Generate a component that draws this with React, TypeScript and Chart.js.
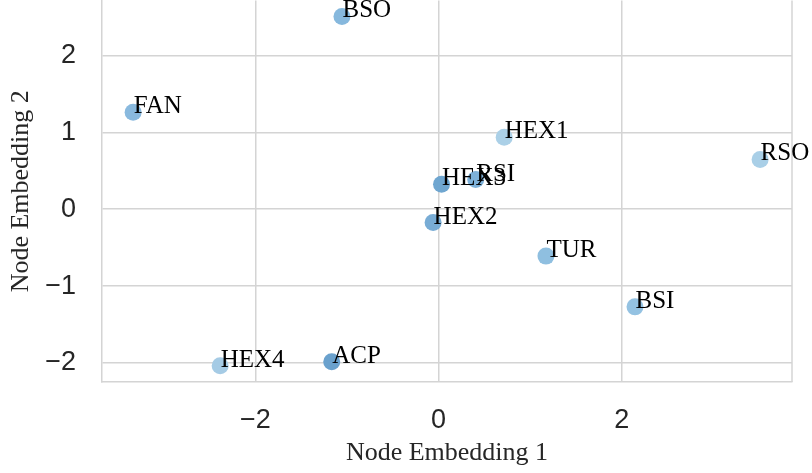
import React, { useEffect, useRef } from "react";
import { Chart, registerables } from "chart.js";

Chart.register(...registerables);

const nodeNames = ["BSO", "FAN", "HEX1", "RSO", "RSI", "HEX3", "HEX2", "TUR", "BSI", "HEX4", "ACP"];
const embedding1 = [-1.055, -3.335, 0.716, 3.51, 0.405, 0.032, -0.06, 1.172, 2.144, -2.385, -1.167];
const embedding2 = [2.506, 1.26, 0.935, 0.647, 0.385, 0.325, -0.173, -0.61, -1.27, -2.035, -1.983];
const nodeColors = ["#86b8dd", "#89b9de", "#abd0e7", "#a9cfe7", "#7db1d9", "#6fa6d0", "#78acd5", "#8fbfe0", "#94c2e2", "#a5cbe5", "#6aa1cd"];
const xTicks = [-2, 0, 2];
const yTicks = [-2, -1, 0, 1, 2];
const xRange = [-3.675, 3.858];
const yRange = [-2.247, 2.714];

const GRID = "#d4d4d4";
const fmt = (v: number) => String(v).replace("-", "\u2212");

const labelPlugin = {
  id: "nodeLabels",
  afterDatasetsDraw(chart: any) {
    const { ctx, scales, chartArea } = chart;
    ctx.save();
    // right spine
    ctx.strokeStyle = GRID;
    ctx.lineWidth = 1.5;
    ctx.beginPath();
    ctx.moveTo(chartArea.right, chartArea.top);
    ctx.lineTo(chartArea.right, chartArea.bottom);
    ctx.stroke();
    ctx.fillStyle = "#000000";
    ctx.font = "25px 'Liberation Serif'";
    ctx.textAlign = "left";
    ctx.textBaseline = "alphabetic";
    nodeNames.forEach((name, i) => {
      const px = scales.x.getPixelForValue(embedding1[i]);
      const py = scales.y.getPixelForValue(embedding2[i]);
      ctx.fillText(name, px + 0.5, py + 1);
    });
    ctx.restore();
  },
};

export default function App() {
  const ref = useRef<HTMLCanvasElement | null>(null);
  useEffect(() => {
    if (!ref.current) return;
    const chart = new Chart(ref.current, {
      type: "scatter",
      data: {
        datasets: [
          {
            data: embedding1.map((x, i) => ({ x, y: embedding2[i] })),
            backgroundColor: nodeColors,
            borderWidth: 0,
            pointRadius: 8.5,
            pointHoverRadius: 8.5,
          },
        ],
      },
      options: {
        responsive: false,
        animation: false,
        events: [],
        layout: { padding: { top: 0, right: 20, left: 0, bottom: 0 } },
        plugins: { legend: { display: false }, tooltip: { enabled: false } },
        scales: {
          x: {
            type: "linear",
            min: xRange[0],
            max: xRange[1],
            afterBuildTicks: (s: any) => {
              s.ticks = xTicks.map((v) => ({ value: v }));
            },
            afterFit: (s: any) => {
              s.height = 91;
              s.paddingLeft = 0;
              s.paddingRight = 0;
            },
            grid: { color: GRID, lineWidth: 1.5, drawTicks: false },
            border: { display: true, color: GRID, width: 1.5 },
            ticks: {
              padding: 22,
              color: "#262626",
              font: { family: "'Liberation Sans'", size: 27 },
              callback: (v: any) => fmt(v),
            },
            title: {
              display: true,
              text: "Node Embedding 1",
              color: "#262626",
              font: { family: "'Liberation Serif'", size: 26 },
              padding: { top: 0, bottom: 4 },
            },
          },
          y: {
            type: "linear",
            min: yRange[0],
            max: yRange[1],
            afterBuildTicks: (s: any) => {
              s.ticks = yTicks.map((v) => ({ value: v }));
            },
            afterFit: (s: any) => {
              s.width = 102;
              s.paddingTop = 0;
              s.paddingBottom = 0;
            },
            grid: { color: GRID, lineWidth: 1.5, drawTicks: false },
            border: { display: true, color: GRID, width: 1.5 },
            ticks: {
              padding: 26,
              color: "#262626",
              font: { family: "'Liberation Sans'", size: 27 },
              callback: (v: any) => fmt(v),
            },
            title: {
              display: true,
              text: "Node Embedding 2",
              color: "#262626",
              font: { family: "'Liberation Serif'", size: 26 },
              padding: { top: 6, bottom: 0 },
            },
          },
        },
      },
      plugins: [labelPlugin],
    });
    return () => chart.destroy();
  }, []);
  return (
    <div style={{ position: "absolute", left: 0, top: 0, width: 812, height: 473, overflow: "hidden", background: "#ffffff" }}>
      <canvas ref={ref} width={812} height={481} style={{ position: "absolute", left: 0, top: -8 }} />
    </div>
  );
}
